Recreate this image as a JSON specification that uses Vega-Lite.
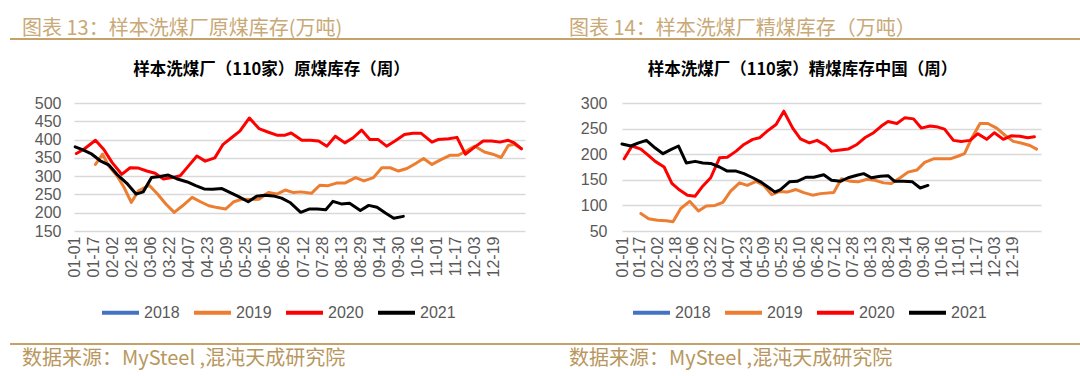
{
"$schema": "https://vega.github.io/schema/vega-lite/v6.json",
"padding": {"left": 10, "top": 19, "right": 0, "bottom": 10},
"background": "white",
"datasets": {
"raw": [
{"year":"2019","day":18,"value":332},{"year":"2019","day":24,"value":360},{"year":"2019","day":29,"value":328},{"year":"2019","day":36,"value":301},{"year":"2019","day":42,"value":269},{"year":"2019","day":48,"value":228},{"year":"2019","day":54,"value":260},{"year":"2019","day":63,"value":275},{"year":"2019","day":70,"value":251},{"year":"2019","day":77,"value":224},{"year":"2019","day":84,"value":201},{"year":"2019","day":91,"value":219},{"year":"2019","day":99,"value":242},{"year":"2019","day":106,"value":230},{"year":"2019","day":113,"value":219},{"year":"2019","day":120,"value":214},{"year":"2019","day":127,"value":210},{"year":"2019","day":134,"value":230},{"year":"2019","day":141,"value":237},{"year":"2019","day":148,"value":236},{"year":"2019","day":155,"value":237},{"year":"2019","day":163,"value":255},{"year":"2019","day":170,"value":251},{"year":"2019","day":177,"value":262},{"year":"2019","day":184,"value":255},{"year":"2019","day":190,"value":257},{"year":"2019","day":199,"value":253},{"year":"2019","day":206,"value":275},{"year":"2019","day":213,"value":274},{"year":"2019","day":220,"value":281},{"year":"2019","day":227,"value":281},{"year":"2019","day":236,"value":296},{"year":"2019","day":243,"value":287},{"year":"2019","day":251,"value":296},{"year":"2019","day":258,"value":323},{"year":"2019","day":265,"value":323},{"year":"2019","day":272,"value":314},{"year":"2019","day":279,"value":321},{"year":"2019","day":286,"value":334},{"year":"2019","day":293,"value":348},{"year":"2019","day":300,"value":332},{"year":"2019","day":308,"value":346},{"year":"2019","day":315,"value":357},{"year":"2019","day":322,"value":357},{"year":"2019","day":329,"value":369},{"year":"2019","day":336,"value":382},{"year":"2019","day":344,"value":366},{"year":"2019","day":351,"value":360},{"year":"2019","day":358,"value":351},{"year":"2019","day":364,"value":384},{"year":"2019","day":369,"value":387},{"year":"2019","day":375,"value":375},
{"year":"2020","day":2,"value":362},{"year":"2020","day":8,"value":373},{"year":"2020","day":18,"value":398},{"year":"2020","day":25,"value":373},{"year":"2020","day":32,"value":337},{"year":"2020","day":40,"value":305},{"year":"2020","day":47,"value":323},{"year":"2020","day":54,"value":322},{"year":"2020","day":61,"value":314},{"year":"2020","day":68,"value":308},{"year":"2020","day":75,"value":292},{"year":"2020","day":82,"value":296},{"year":"2020","day":89,"value":301},{"year":"2020","day":96,"value":328},{"year":"2020","day":103,"value":355},{"year":"2020","day":110,"value":341},{"year":"2020","day":118,"value":350},{"year":"2020","day":125,"value":387},{"year":"2020","day":132,"value":405},{"year":"2020","day":139,"value":423},{"year":"2020","day":147,"value":459},{"year":"2020","day":155,"value":430},{"year":"2020","day":163,"value":420},{"year":"2020","day":170,"value":412},{"year":"2020","day":177,"value":412},{"year":"2020","day":182,"value":418},{"year":"2020","day":191,"value":398},{"year":"2020","day":198,"value":398},{"year":"2020","day":205,"value":396},{"year":"2020","day":212,"value":382},{"year":"2020","day":219,"value":409},{"year":"2020","day":227,"value":391},{"year":"2020","day":234,"value":405},{"year":"2020","day":241,"value":426},{"year":"2020","day":248,"value":400},{"year":"2020","day":255,"value":400},{"year":"2020","day":262,"value":382},{"year":"2020","day":269,"value":396},{"year":"2020","day":277,"value":414},{"year":"2020","day":284,"value":417},{"year":"2020","day":291,"value":417},{"year":"2020","day":300,"value":393},{"year":"2020","day":305,"value":400},{"year":"2020","day":314,"value":402},{"year":"2020","day":321,"value":406},{"year":"2020","day":328,"value":360},{"year":"2020","day":336,"value":380},{"year":"2020","day":343,"value":396},{"year":"2020","day":350,"value":396},{"year":"2020","day":357,"value":393},{"year":"2020","day":364,"value":398},{"year":"2020","day":369,"value":391},{"year":"2020","day":375,"value":375},
{"year":"2021","day":1,"value":380},{"year":"2021","day":8,"value":371},{"year":"2021","day":15,"value":360},{"year":"2021","day":22,"value":342},{"year":"2021","day":29,"value":331},{"year":"2021","day":36,"value":305},{"year":"2021","day":45,"value":278},{"year":"2021","day":52,"value":251},{"year":"2021","day":58,"value":257},{"year":"2021","day":65,"value":296},{"year":"2021","day":72,"value":299},{"year":"2021","day":79,"value":303},{"year":"2021","day":86,"value":293},{"year":"2021","day":95,"value":284},{"year":"2021","day":102,"value":274},{"year":"2021","day":109,"value":265},{"year":"2021","day":116,"value":264},{"year":"2021","day":124,"value":266},{"year":"2021","day":131,"value":255},{"year":"2021","day":138,"value":244},{"year":"2021","day":146,"value":230},{"year":"2021","day":153,"value":245},{"year":"2021","day":160,"value":248},{"year":"2021","day":167,"value":246},{"year":"2021","day":174,"value":240},{"year":"2021","day":181,"value":228},{"year":"2021","day":190,"value":201},{"year":"2021","day":197,"value":210},{"year":"2021","day":204,"value":210},{"year":"2021","day":211,"value":208},{"year":"2021","day":217,"value":231},{"year":"2021","day":224,"value":224},{"year":"2021","day":231,"value":226},{"year":"2021","day":240,"value":206},{"year":"2021","day":247,"value":220},{"year":"2021","day":254,"value":215},{"year":"2021","day":261,"value":199},{"year":"2021","day":268,"value":185},{"year":"2021","day":276,"value":190}
],
"clean": [
{"year":"2019","day":17,"value":84},{"year":"2019","day":24,"value":74},{"year":"2019","day":32,"value":71},{"year":"2019","day":40,"value":70},{"year":"2019","day":46,"value":68},{"year":"2019","day":53,"value":94},{"year":"2019","day":61,"value":108},{"year":"2019","day":69,"value":89},{"year":"2019","day":76,"value":99},{"year":"2019","day":84,"value":100},{"year":"2019","day":91,"value":106},{"year":"2019","day":98,"value":128},{"year":"2019","day":106,"value":144},{"year":"2019","day":113,"value":139},{"year":"2019","day":121,"value":147},{"year":"2019","day":128,"value":139},{"year":"2019","day":135,"value":121},{"year":"2019","day":142,"value":127},{"year":"2019","day":149,"value":126},{"year":"2019","day":157,"value":131},{"year":"2019","day":164,"value":125},{"year":"2019","day":172,"value":120},{"year":"2019","day":179,"value":123},{"year":"2019","day":191,"value":125},{"year":"2019","day":198,"value":152},{"year":"2019","day":206,"value":147},{"year":"2019","day":213,"value":146},{"year":"2019","day":221,"value":151},{"year":"2019","day":228,"value":149},{"year":"2019","day":236,"value":144},{"year":"2019","day":243,"value":143},{"year":"2019","day":251,"value":154},{"year":"2019","day":258,"value":165},{"year":"2019","day":266,"value":169},{"year":"2019","day":273,"value":184},{"year":"2019","day":281,"value":191},{"year":"2019","day":288,"value":191},{"year":"2019","day":296,"value":191},{"year":"2019","day":303,"value":196},{"year":"2019","day":309,"value":201},{"year":"2019","day":315,"value":229},{"year":"2019","day":323,"value":260},{"year":"2019","day":330,"value":260},{"year":"2019","day":338,"value":251},{"year":"2019","day":345,"value":238},{"year":"2019","day":353,"value":225},{"year":"2019","day":360,"value":222},{"year":"2019","day":368,"value":217},{"year":"2019","day":374,"value":210},
{"year":"2020","day":2,"value":191},{"year":"2020","day":9,"value":216},{"year":"2020","day":17,"value":210},{"year":"2020","day":23,"value":199},{"year":"2020","day":30,"value":186},{"year":"2020","day":38,"value":175},{"year":"2020","day":45,"value":143},{"year":"2020","day":52,"value":130},{"year":"2020","day":59,"value":120},{"year":"2020","day":66,"value":118},{"year":"2020","day":73,"value":138},{"year":"2020","day":80,"value":154},{"year":"2020","day":88,"value":193},{"year":"2020","day":95,"value":194},{"year":"2020","day":103,"value":206},{"year":"2020","day":110,"value":219},{"year":"2020","day":118,"value":229},{"year":"2020","day":124,"value":232},{"year":"2020","day":131,"value":245},{"year":"2020","day":139,"value":258},{"year":"2020","day":146,"value":284},{"year":"2020","day":154,"value":251},{"year":"2020","day":161,"value":230},{"year":"2020","day":169,"value":222},{"year":"2020","day":176,"value":227},{"year":"2020","day":184,"value":217},{"year":"2020","day":189,"value":206},{"year":"2020","day":197,"value":208},{"year":"2020","day":204,"value":210},{"year":"2020","day":212,"value":219},{"year":"2020","day":219,"value":232},{"year":"2020","day":227,"value":242},{"year":"2020","day":234,"value":255},{"year":"2020","day":240,"value":264},{"year":"2020","day":248,"value":260},{"year":"2020","day":255,"value":271},{"year":"2020","day":263,"value":269},{"year":"2020","day":270,"value":251},{"year":"2020","day":278,"value":255},{"year":"2020","day":285,"value":253},{"year":"2020","day":291,"value":249},{"year":"2020","day":299,"value":227},{"year":"2020","day":306,"value":225},{"year":"2020","day":314,"value":227},{"year":"2020","day":321,"value":240},{"year":"2020","day":329,"value":229},{"year":"2020","day":336,"value":242},{"year":"2020","day":344,"value":229},{"year":"2020","day":351,"value":236},{"year":"2020","day":359,"value":235},{"year":"2020","day":366,"value":232},{"year":"2020","day":372,"value":234},
{"year":"2021","day":0,"value":220},{"year":"2021","day":8,"value":216},{"year":"2021","day":15,"value":222},{"year":"2021","day":22,"value":227},{"year":"2021","day":30,"value":212},{"year":"2021","day":37,"value":201},{"year":"2021","day":44,"value":209},{"year":"2021","day":51,"value":216},{"year":"2021","day":58,"value":183},{"year":"2021","day":66,"value":186},{"year":"2021","day":73,"value":183},{"year":"2021","day":80,"value":182},{"year":"2021","day":88,"value":175},{"year":"2021","day":95,"value":167},{"year":"2021","day":103,"value":167},{"year":"2021","day":110,"value":162},{"year":"2021","day":118,"value":154},{"year":"2021","day":125,"value":146},{"year":"2021","day":133,"value":134},{"year":"2021","day":138,"value":126},{"year":"2021","day":143,"value":131},{"year":"2021","day":151,"value":146},{"year":"2021","day":158,"value":147},{"year":"2021","day":166,"value":155},{"year":"2021","day":173,"value":155},{"year":"2021","day":182,"value":160},{"year":"2021","day":189,"value":149},{"year":"2021","day":197,"value":147},{"year":"2021","day":204,"value":154},{"year":"2021","day":212,"value":159},{"year":"2021","day":218,"value":162},{"year":"2021","day":225,"value":154},{"year":"2021","day":233,"value":157},{"year":"2021","day":240,"value":158},{"year":"2021","day":246,"value":147},{"year":"2021","day":254,"value":147},{"year":"2021","day":262,"value":146},{"year":"2021","day":269,"value":134},{"year":"2021","day":276,"value":139}
]
},
"vconcat": [
{
"spacing": 0,
"hconcat": [
{"width": 536, "height": 2, "view": {"fill": "#C4A26A", "stroke": null},
 "title": {"text": "图表 13：样本洗煤厂原煤库存(万吨)", "anchor": "start", "dx": 12, "offset": -6, "fontSize": 20, "fontWeight": "normal", "color": "#C9A977", "font": "Noto Sans CJK SC"},
 "data": {"values": [{}]}, "mark": {"type": "text", "text": ""}},
{"width": 534, "height": 2, "view": {"fill": "#C4A26A", "stroke": null},
 "title": {"text": "图表 14：样本洗煤厂精煤库存（万吨）", "anchor": "start", "dx": 23, "offset": -6, "fontSize": 20, "fontWeight": "normal", "color": "#C9A977", "font": "Noto Sans CJK SC"},
 "data": {"values": [{}]}, "mark": {"type": "text", "text": ""}}
]
},
{
"spacing": 21,
"resolve": {"scale": {"color": "independent", "x": "independent", "y": "independent"}, "legend": {"color": "independent"}},
"hconcat": [
{"width": 515, "height": 128,
 "title": {"text": "样本洗煤厂（110家）原煤库存（周）", "anchor": "middle", "frame": "group", "dx": 4, "offset": 17, "fontSize": 16.5, "fontWeight": "bold", "color": "#000000", "font": "Noto Sans CJK SC"},
 "data": {"name": "raw"},
 "mark": {"type": "line", "strokeWidth": 3, "strokeCap": "round", "strokeJoin": "round"},
 "encoding": {
  "x": {"field": "day", "type": "quantitative", "scale": {"domain": [0, 378], "range": [64, 515], "nice": false, "zero": false},
   "axis": {"title": null, "values": [0,16,32,48,64,80,96,112,128,144,160,176,192,208,224,240,256,272,288,304,320,336,352], "labelExpr": "timeFormat(datetime(2021, 0, 1 + datum.value), '%m-%d')", "labelAngle": 270, "labelFontSize": 16, "labelPadding": 5, "grid": false, "labelOverlap": false, "labelFlush": false, "labelBound": false}},
  "y": {"field": "value", "type": "quantitative", "scale": {"domain": [150, 500], "nice": false, "zero": false},
   "axis": {"title": null, "values": [150,200,250,300,350,400,450,500], "grid": true, "labelPadding": 13, "offset": -64}},
  "color": {"field": "year", "type": "nominal", "scale": {"domain": ["2018","2019","2020","2021"], "range": ["#4472C4","#ED7D31","#FF0000","#000000"]},
   "legend": {"orient": "none", "direction": "horizontal", "legendX": 90, "legendY": 189}}
 }},
{"width": 495, "height": 128,
 "title": {"text": "样本洗煤厂（110家）精煤库存中国（周）", "anchor": "middle", "frame": "group", "dx": 9, "offset": 17, "fontSize": 16.5, "fontWeight": "bold", "color": "#000000", "font": "Noto Sans CJK SC"},
 "data": {"name": "clean"},
 "mark": {"type": "line", "strokeWidth": 3, "strokeCap": "round", "strokeJoin": "round"},
 "encoding": {
  "x": {"field": "day", "type": "quantitative", "scale": {"domain": [0, 378], "range": [76, 495], "nice": false, "zero": false},
   "axis": {"title": null, "values": [0,16,32,48,64,80,96,112,128,144,160,176,192,208,224,240,256,272,288,304,320,336,352], "labelExpr": "timeFormat(datetime(2021, 0, 1 + datum.value), '%m-%d')", "labelAngle": 270, "labelFontSize": 16, "labelPadding": 5, "grid": false, "labelOverlap": false, "labelFlush": false, "labelBound": false}},
  "y": {"field": "value", "type": "quantitative", "scale": {"domain": [50, 300], "nice": false, "zero": false},
   "axis": {"title": null, "values": [50,100,150,200,250,300], "grid": true, "labelPadding": 15, "offset": -76}},
  "color": {"field": "year", "type": "nominal", "scale": {"domain": ["2018","2019","2020","2021"], "range": ["#4472C4","#ED7D31","#FF0000","#000000"]},
   "legend": {"orient": "none", "direction": "horizontal", "legendX": 85, "legendY": 189}}
 }}
]
},
{
"spacing": 0,
"hconcat": [
{"width": 536, "height": 2, "view": {"fill": "#C4A26A", "stroke": null},
 "title": {"text": "数据来源：MySteel ,混沌天成研究院", "orient": "bottom", "anchor": "start", "dx": 12, "offset": 0, "fontSize": 20, "fontWeight": "normal", "color": "#B8975E", "font": "Noto Sans CJK SC"},
 "data": {"values": [{}]}, "mark": {"type": "text", "text": ""}},
{"width": 534, "height": 2, "view": {"fill": "#C4A26A", "stroke": null},
 "title": {"text": "数据来源：MySteel ,混沌天成研究院", "orient": "bottom", "anchor": "start", "dx": 23, "offset": 0, "fontSize": 20, "fontWeight": "normal", "color": "#B8975E", "font": "Noto Sans CJK SC"},
 "data": {"values": [{}]}, "mark": {"type": "text", "text": ""}}
]
}
],
"spacing": 17,
"resolve": {"scale": {"color": "independent", "x": "independent", "y": "independent"}, "legend": {"color": "independent"}},
"config": {
 "view": {"stroke": null},
 "axis": {"domain": false, "ticks": false, "labelColor": "#595959", "labelFont": "Liberation Sans", "labelFontSize": 16, "gridColor": "#D9D9D9", "gridWidth": 1.3},
 "legend": {"title": null, "symbolType": "stroke", "symbolSize": 1369, "symbolStrokeWidth": 4, "labelFontSize": 16, "labelFont": "Liberation Sans", "labelColor": "#595959", "columnPadding": 6, "labelOffset": 3}
}
}
